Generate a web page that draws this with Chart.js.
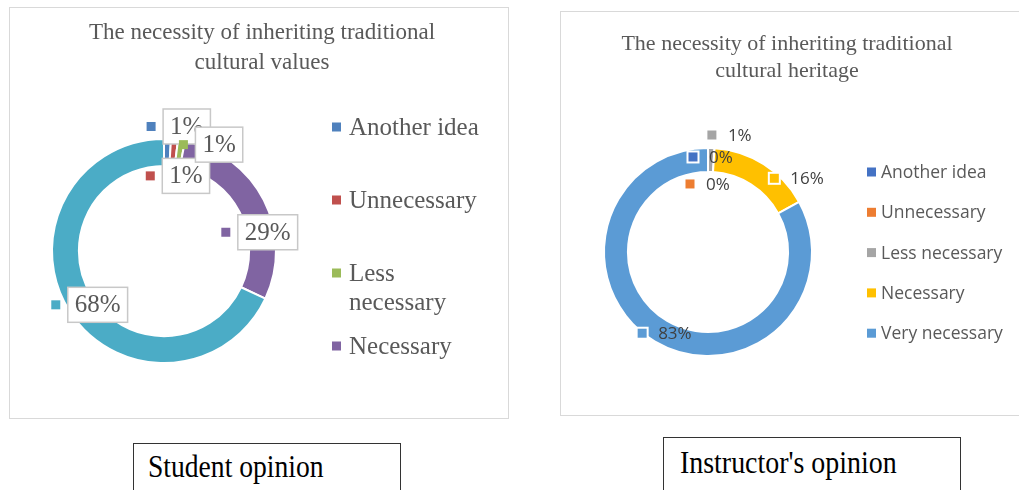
<!DOCTYPE html>
<html>
<head>
<meta charset="utf-8">
<script src="https://cdn.jsdelivr.net/npm/chart.js@4.4.0/dist/chart.umd.min.js"></script>
<style>
body { margin: 0; width: 1019px; height: 490px; background: #fff; position: relative; overflow: hidden; }
.panel { position: absolute; border: 1px solid #d9d9d9; background: #fff; }
.panel canvas { position: absolute; left: 0; top: 0; }
.title { position: absolute; text-align: center; font-family: 'Liberation Serif', serif; color: #595959; }
.caption { position: absolute; border: 1px solid #333; border-bottom: none; box-sizing: border-box; }
.caption span { position: absolute; font-family: 'Liberation Serif', serif; font-size: 31px; line-height: 31px; color: #000; white-space: nowrap; transform-origin: left top; }
</style>
</head>
<body>

<div class="panel" style="left:9px;top:7px;width:498px;height:410px">
  <canvas id="studentChart" width="498" height="410"></canvas>
  <div class="title" style="left:0;top:9px;width:504px;font-size:23px;line-height:30px">The necessity of inheriting traditional<br>cultural values</div>
</div>

<div class="panel" style="left:560px;top:11px;width:470px;height:403px">
  <canvas id="instructorChart" width="458" height="403"></canvas>
  <div class="title" style="left:0;top:17px;width:452px;font-size:22px;line-height:27px">The necessity of inheriting traditional<br>cultural heritage</div>
</div>

<div class="caption" style="left:133px;top:443px;width:268px;height:60px">
  <span style="left:14px;top:7px;transform:scaleX(0.89)">Student opinion</span>
</div>
<div class="caption" style="left:663px;top:437px;width:298px;height:60px">
  <span style="left:16px;top:9px;transform:scaleX(0.9)">Instructor's opinion</span>
</div>

<script>
const categories = ['Another idea', 'Unnecessary', 'Less necessary', 'Necessary', 'Very necessary'];
const studentValues = [1, 1, 1, 29, 68];
const instructorValues = [0, 0, 1, 16, 83];

const studentColors = ['#4F81BD', '#C0504D', '#9BBB59', '#8064A2', '#4BACC6'];
const instructorColors = ['#4472C4', '#ED7D31', '#A5A5A5', '#FFC000', '#5B9BD5'];

// data labels with a colour key square, placed relative to each arc's middle
const ringLabels = {
    id: 'ringLabels',
    afterDatasetsDraw(chart, args, opts) {
        const ctx = chart.ctx;
        const ds = chart.data.datasets[0];
        ctx.save();
        ctx.font = opts.font;
        ctx.textBaseline = 'middle';
        chart.getDatasetMeta(0).data.forEach((arc, i) => {
            const p = arc.tooltipPosition();
            const mx = p.x + opts.offsets[i][0];
            const my = p.y + opts.offsets[i][1];
            const text = ds.data[i] + '%';
            const tw = ctx.measureText(text).width;
            const s = opts.key;
            if (opts.boxed) {
                const bx = mx + 12, bw = tw + 14, bh = 35;
                ctx.fillStyle = '#fff';
                ctx.strokeStyle = '#c8c8c8';
                ctx.lineWidth = 1.5;
                ctx.fillRect(bx, my - bh / 2, bw, bh);
                ctx.strokeRect(bx, my - bh / 2, bw, bh);
                ctx.fillStyle = opts.color;
                ctx.textAlign = 'center';
                ctx.fillText(text, bx + bw / 2, my + 1);
            } else {
                ctx.fillStyle = opts.color;
                ctx.textAlign = 'left';
                ctx.fillText(text, mx + 16, my + 1);
            }
            if (opts.keyOutline) {
                ctx.fillStyle = '#fff';
                ctx.fillRect(mx - s / 2 - 2, my - s / 2 - 2, s + 4, s + 4);
            }
            ctx.fillStyle = ds.backgroundColor[i];
            ctx.fillRect(mx - s / 2, my - s / 2, s, s);
        });
        ctx.restore();
    }
};

// legend on the right, one slot per category, long names wrap
const sideLegend = {
    id: 'sideLegend',
    afterDraw(chart, args, opts) {
        const ctx = chart.ctx;
        const ds = chart.data.datasets[0];
        ctx.save();
        ctx.font = opts.font;
        ctx.textBaseline = 'middle';
        ctx.textAlign = 'left';
        chart.data.labels.forEach((label, i) => {
            const y = opts.y + i * opts.step;
            if (y > opts.maxY) return;
            ctx.fillStyle = ds.backgroundColor[i];
            ctx.fillRect(opts.x, y - opts.key / 2, opts.key, opts.key);
            ctx.fillStyle = opts.color;
            let lines = [label];
            if (ctx.measureText(label).width > opts.maxWidth) lines = label.split(' ');
            lines.forEach((ln, j) => ctx.fillText(ln, opts.x + opts.gap, y + 1 + j * opts.lineHeight));
        });
        ctx.restore();
    }
};

new Chart(document.getElementById('studentChart'), {
    type: 'doughnut',
    data: {
        labels: categories,
        datasets: [{
            data: studentValues,
            backgroundColor: studentColors,
            borderColor: '#fff',
            borderWidth: 2
        }]
    },
    options: {
        responsive: false,
        animation: false,
        cutout: '76%',
        layout: { padding: { left: 41, right: 231, top: 130, bottom: 54 } },
        plugins: {
            legend: { display: false },
            tooltip: { enabled: false },
            ringLabels: {
                boxed: true,
                font: '25px "Liberation Serif"',
                color: '#595959',
                key: 9,
                offsets: [[-16, -26], [-23, 23], [4, -9], [-26, 26], [-25, 1]]
            },
            sideLegend: {
                x: 322, y: 119, step: 73, key: 9, gap: 17,
                font: '25px "Liberation Serif"', color: '#595959',
                maxWidth: 140, lineHeight: 29, maxY: 380
            }
        }
    },
    plugins: [ringLabels, sideLegend]
});

new Chart(document.getElementById('instructorChart'), {
    type: 'doughnut',
    data: {
        labels: categories,
        datasets: [{
            data: instructorValues,
            backgroundColor: instructorColors,
            borderColor: '#fff',
            borderWidth: 2
        }]
    },
    options: {
        responsive: false,
        animation: false,
        cutout: '77%',
        layout: { padding: { left: 42, right: 206, top: 135, bottom: 58 } },
        plugins: {
            legend: { display: false },
            tooltip: { enabled: false },
            ringLabels: {
                boxed: false,
                keyOutline: true,
                font: '17px "Open Sans"',
                color: '#404040',
                key: 9,
                offsets: [[-15, -3], [-18, 24], [1, -25], [17, 4], [-19, 2]]
            },
            sideLegend: {
                x: 306, y: 160, step: 40.3, key: 9, gap: 14,
                font: '17.5px "Open Sans"', color: '#595959',
                maxWidth: 200, lineHeight: 20, maxY: 400
            }
        }
    },
    plugins: [ringLabels, sideLegend]
});
</script>
</body>
</html>
